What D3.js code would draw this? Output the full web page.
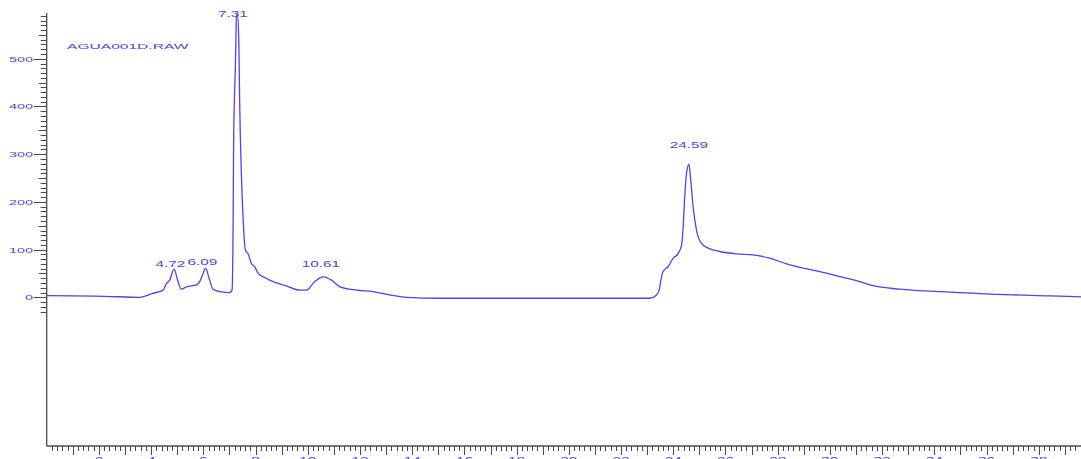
<!DOCTYPE html>
<html>
<head>
    <title>AGUA001D.RAW chromatogram</title>
    <script src="https://d3js.org/d3.v7.min.js"></script>
    <style>
        body {
            margin: 0;
            padding: 0;
            background: #fff;
            overflow: hidden;
        }
        svg text {
            font-family: "Liberation Sans", Arial, sans-serif;
            fill: #4f46e0;
        }
    </style>
</head>
<body>
    <div id="chart"></div>
    <script>
        // Retention time (min) and detector response
        const times = [0.00, 2.22, 3.56, 4.07, 4.46, 4.59, 4.71, 4.88, 5.03, 5.16, 5.35, 5.74, 5.86, 5.99, 6.09,
            6.22, 6.37, 6.63, 7.01, 7.10, 7.14, 7.16, 7.23, 7.27, 7.31, 7.36, 7.39, 7.46, 7.52, 7.61, 7.71,
            7.84, 7.97, 8.10, 8.29, 8.67, 9.18, 9.69, 9.95, 10.27, 10.59, 10.91, 11.23, 11.87, 12.50, 13.14,
            13.78, 15.06, 21.95, 23.10, 23.36, 23.46, 23.55, 23.61, 23.80, 24.00, 24.19, 24.32, 24.38, 24.44,
            24.51, 24.60, 24.67, 24.76, 24.89, 25.08, 25.34, 25.79, 26.43, 27.06, 27.70, 28.34, 28.98, 29.62,
            30.26, 31.15, 31.53, 32.68, 34.60, 36.51, 38.43, 39.62];
        const response = [3.4, 2.1, 0, 8.4, 15, 29, 36, 59, 33, 17, 22, 26, 33, 50, 61,
            40, 17, 12, 10, 15, 148, 323, 491, 588, 594, 533, 414, 253, 169, 99, 92,
            71, 64, 50, 43, 33, 24, 15, 15, 33, 43, 36, 22, 15, 12, 5,
            0, -2, -2, -2, 5, 15, 43, 54, 64, 82, 92, 110, 148, 211,
            260, 279, 246, 190, 141, 113, 103, 96, 91, 89, 82, 70, 61, 54,
            45, 33, 26, 17, 11, 6, 3, 1];

        // Peak annotations: label, time of label centre, level of label baseline
        const peakLabels = ["4.72", "6.09", "7.31", "10.61", "24.59"];
        const peakLabelTimes = [4.74, 5.96, 7.13, 10.5, 24.6];
        const peakLabelLevels = [64, 68, 587, 64, 312];

        const fileName = "AGUA001D.RAW";

        const yLabelValues = [0, 100, 200, 300, 400, 500];
        const xLabelValues = d3.range(2, 40, 2);

        const width = 1081, height = 459;
        const x0 = 46.7, axisBottom = 446, axisTop = 13;

        const x = d3.scaleLinear().domain([0, 39.6]).range([x0, 1080.5]);
        const y = d3.scaleLinear().domain([0, 596]).range([297.3, 13]);

        const svg = d3.select('#chart')
            .append('svg')
            .attr('width', width)
            .attr('height', height);

        const axisColor = '#4a4a4a';

        // widen a text element horizontally, like the old plotter font
        function wide(sel, k, px, py) {
            sel.attr('x', 0).attr('y', 0)
                .attr('transform', `translate(${px},${py}) scale(${k},1)`);
        }

        // ---- y axis ----
        const yAx = svg.append('g');
        yAx.append('line')
            .attr('x1', x0).attr('x2', x0)
            .attr('y1', axisTop).attr('y2', axisBottom)
            .attr('stroke', axisColor).attr('stroke-width', 1.3);

        const yMinor = d3.range(-30, 600, 10);
        yAx.selectAll('line.tick')
            .data(yMinor)
            .join('line')
            .attr('class', 'tick')
            .attr('x1', d => d % 100 === 0 ? x0 - 13 : (d % 50 === 0 ? x0 - 8 : x0 - 6))
            .attr('x2', x0)
            .attr('y1', d => Math.round(y(d)) + 0.5)
            .attr('y2', d => Math.round(y(d)) + 0.5)
            .attr('stroke', axisColor)
            .attr('stroke-width', 1);

        yAx.selectAll('text')
            .data(yLabelValues)
            .join('text')
            .attr('text-anchor', 'end')
            .style('font-size', '8px')
            .text(d => d)
            .each(function(d) {
                wide(d3.select(this), 1.8, 33, y(d) + 3);
            });

        // ---- x axis ----
        const xAx = svg.append('g');
        xAx.append('line')
            .attr('x1', x0).attr('x2', width)
            .attr('y1', axisBottom).attr('y2', axisBottom)
            .attr('stroke', axisColor).attr('stroke-width', 1.3);

        const xMinor = d3.range(0, 200).map(i => i / 5).filter(d => d > 0 && d < 39.6);
        xAx.selectAll('line.tick')
            .data(xMinor)
            .join('line')
            .attr('class', 'tick')
            .attr('x1', d => Math.round(x(d)) + 0.5)
            .attr('x2', d => Math.round(x(d)) + 0.5)
            .attr('y1', axisBottom)
            .attr('y2', d => Math.abs(d - Math.round(d)) < 1e-6 ? axisBottom + 9 : axisBottom + 5)
            .attr('stroke', axisColor)
            .attr('stroke-width', 1);

        xAx.selectAll('text')
            .data(xLabelValues)
            .join('text')
            .attr('text-anchor', 'middle')
            .style('font-size', '9px')
            .text(d => d)
            .each(function(d) {
                wide(d3.select(this), 1.7, x(d), 463);
            });

        // ---- trace ----
        const points = times.map((t, i) => [t, response[i]]);
        const line = d3.line()
            .x(d => x(d[0]))
            .y(d => y(d[1]))
            .curve(d3.curveMonotoneX);

        svg.append('path')
            .datum(points)
            .attr('fill', 'none')
            .attr('stroke', '#5a3cf5')
            .attr('stroke-width', 1.3)
            .attr('d', line);

        // ---- annotations ----
        svg.append('g')
            .selectAll('text')
            .data(peakLabels)
            .join('text')
            .attr('text-anchor', 'middle')
            .style('font-size', '9px')
            .text(d => d)
            .each(function(d, i) {
                wide(d3.select(this), 1.7, x(peakLabelTimes[i]), y(peakLabelLevels[i]));
            });

        svg.append('text')
            .style('font-size', '8px')
            .text(fileName)
            .each(function() {
                wide(d3.select(this), 1.95, 67, 48.5);
            });
    </script>
</body>
</html>
